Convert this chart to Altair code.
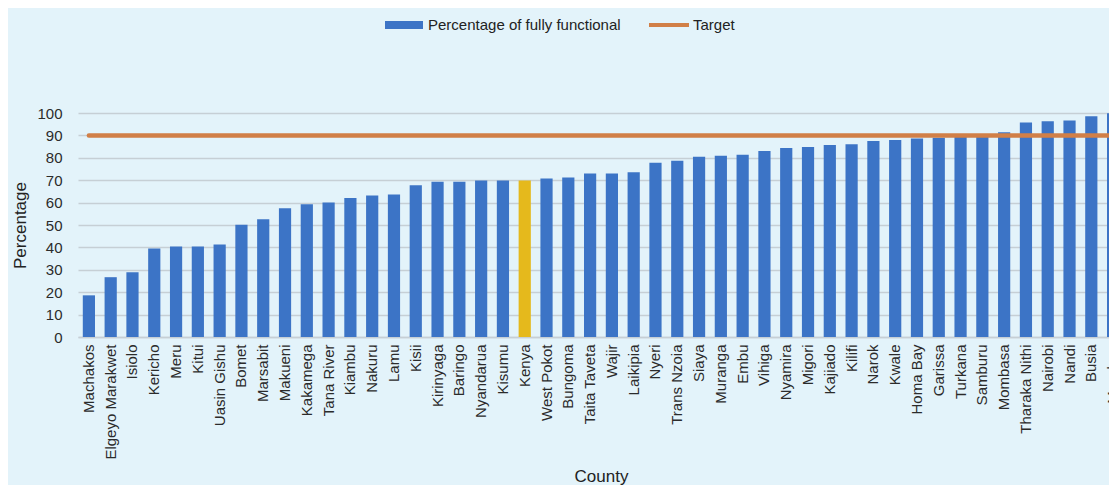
import altair as alt
import pandas as pd

counties = ["Machakos", "Elgeyo Marakwet", "Isiolo", "Kericho", "Meru", "Kitui", "Uasin Gishu",
            "Bomet", "Marsabit", "Makueni", "Kakamega", "Tana River", "Kiambu", "Nakuru", "Lamu",
            "Kisii", "Kirinyaga", "Baringo", "Nyandarua", "Kisumu", "Kenya", "West Pokot",
            "Bungoma", "Taita Taveta", "Wajir", "Laikipia", "Nyeri", "Trans Nzoia", "Siaya",
            "Muranga", "Embu", "Vihiga", "Nyamira", "Migori", "Kajiado", "Kilifi", "Narok",
            "Kwale", "Homa Bay", "Garissa", "Turkana", "Samburu", "Mombasa", "Tharaka Nithi",
            "Nairobi", "Nandi", "Busia", "Mandera"]
pct_functional = [18.6, 26.7, 28.9, 39.5, 40.4, 40.4, 41.3, 50.1, 52.6, 57.5, 59.3, 60.1, 62.0,
                  63.2, 63.6, 67.7, 69.3, 69.3, 69.9, 69.9, 69.9, 70.8, 71.2, 73.0, 73.0, 73.5,
                  77.8, 78.7, 80.5, 80.9, 81.4, 83.0, 84.4, 84.8, 85.7, 86.1, 87.5, 87.9, 88.6,
                  89.0, 89.3, 89.6, 91.4, 95.8, 96.3, 96.7, 98.5, 99.9]
target_value = 90
highlight = "Kenya"
series_names = ["Percentage of fully functional", "Target"]
y_ticks = [0, 10, 20, 30, 40, 50, 60, 70, 80, 90, 100]

BLUE = "#3C74C6"
ORANGE = "#D17F47"
YELLOW = "#E5B91C"
BG = "#E3F3FA"
GRID = "#C6CFD5"
FONT = "Liberation Sans, Arial, sans-serif"
TXT = "#2B2B2B"

bars_df = pd.DataFrame({"County": counties, "Percentage": pct_functional})
line_df = pd.DataFrame({"County": counties, "Percentage": [target_value] * len(counties)})
legend_df = pd.DataFrame({"series": series_names})

W = 1031          # visible plot width (page is cut at the right edge)
RANGE_END = 1046  # full category axis length, the last bar runs past the edge
H = 224

x_enc = alt.X("County:N", sort=counties,
              scale=alt.Scale(range=[0, RANGE_END], paddingInner=0.44, paddingOuter=0.22),
              axis=alt.Axis(title="County", labelAngle=-90, labelPadding=7, ticks=False,
                            domainColor=GRID, domainWidth=1.3, labelFontSize=15,
                            labelColor=TXT, titleFontSize=17, titleColor="#222222",
                            titleFontWeight="normal", titleY=139, titleBaseline="middle",
                            grid=False, labelOverlap=False))
y_enc = alt.Y("Percentage:Q", scale=alt.Scale(domain=[0, 100], nice=False),
              axis=alt.Axis(title="Percentage", values=y_ticks, ticks=False, domain=False,
                            gridColor=GRID, gridWidth=1.3, labelFontSize=15, labelPadding=16,
                            labelColor=TXT, titleFontSize=17, titleColor="#222222",
                            titleFontWeight="normal", titlePadding=7, labelOverlap=False,
                            tickCount=11))

rect_path = "M-0.95,-0.2H0.95V0.2H-0.95Z"
line_path = "M-1,-0.1H1V0.1H-1Z"

legend = alt.Legend(title=None, orient="none", legendX=306, legendY=-108, direction="horizontal",
                    symbolSize=1600, labelFontSize=15, symbolStrokeWidth=0, symbolOpacity=1,
                    labelColor="#222222", labelOffset=4, columnPadding=28, labelLimit=0)

bars = alt.Chart(bars_df).mark_bar(clip=True).encode(
    x=x_enc, y=y_enc,
    color=alt.condition(alt.datum.County == highlight, alt.value(YELLOW), alt.value(BLUE)),
)

line = alt.Chart(line_df).mark_line(strokeWidth=4.5, strokeCap="round", color=ORANGE,
                                    clip=True).encode(
    x=x_enc, y=y_enc,
)

legend_layer = alt.Chart(legend_df).mark_point(filled=True, size=1600, strokeWidth=0,
                                               opacity=1).encode(
    color=alt.Color("series:N", scale=alt.Scale(domain=series_names, range=[BLUE, ORANGE]),
                    legend=legend),
    shape=alt.Shape("series:N", scale=alt.Scale(domain=series_names,
                                                range=[rect_path, line_path]),
                    legend=legend),
).transform_filter("false")

chart = alt.layer(bars, line, legend_layer).properties(
    width=W, height=H, background=BG,
    autosize=alt.AutoSizeParams(type="none"),
    padding={"left": 70, "top": 105, "right": 0, "bottom": 148},
).configure(font=FONT).configure_view(stroke=None)

chart.save("out.html", embed_options={"renderer": "svg", "actions": False})
